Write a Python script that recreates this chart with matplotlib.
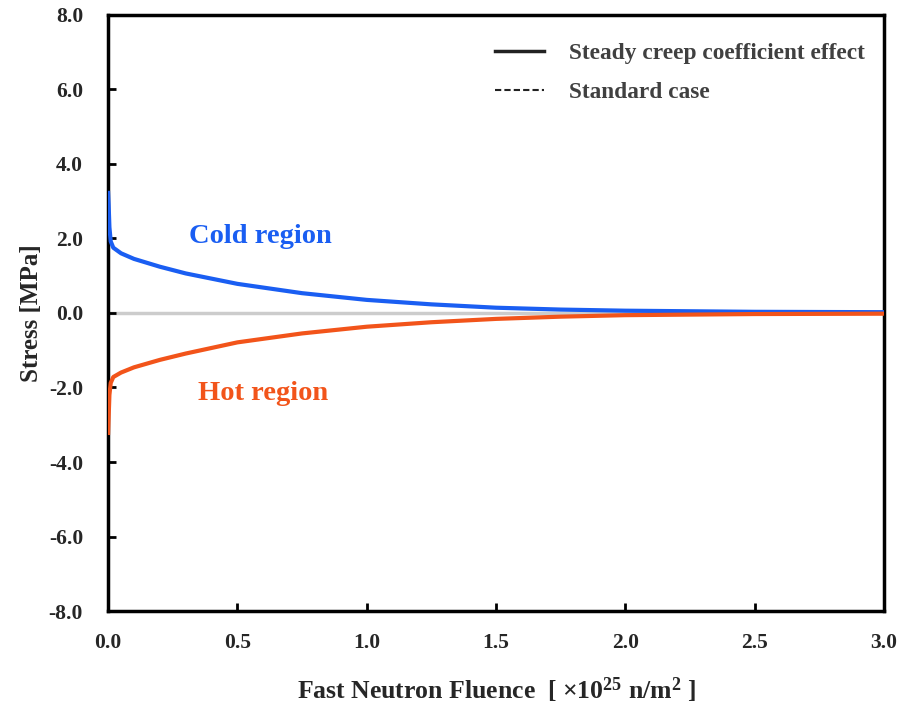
import numpy as np
import matplotlib.pyplot as plt
from matplotlib.lines import Line2D

# fast neutron fluence [x10^25 n/m^2]
fluence = [0.0, 0.002, 0.005, 0.01, 0.02, 0.05, 0.1, 0.2, 0.3, 0.5,
           0.75, 1.0, 1.25, 1.5, 1.75, 2.0, 2.5, 3.0]
# stress [MPa]
cold_stress = [3.22, 2.9, 2.3, 1.92, 1.75, 1.6, 1.45, 1.24, 1.06, 0.78,
               0.53, 0.35, 0.23, 0.14, 0.09, 0.06, 0.03, 0.02]
hot_stress = [-3.22, -2.8, -2.2, -1.88, -1.72, -1.6, -1.46, -1.26, -1.09, -0.79,
              -0.55, -0.37, -0.25, -0.16, -0.1, -0.06, -0.03, -0.02]

COLD = "#1a5ef2"
HOT = "#f2541a"
TEXT = "#262626"

plt.rcParams.update({
    "font.family": "Liberation Serif",
    "font.weight": "bold",
    "mathtext.default": "regular",
})

fig = plt.figure(figsize=(9.01, 7.04), dpi=100)
ax = fig.add_axes([0.12, 0.132, 0.861, 0.847])

ax.axhline(0.0, color="#cccccc", lw=2.5, zorder=1)
ax.plot(fluence, cold_stress, color=COLD, lw=3, zorder=3)
ax.plot(fluence, hot_stress, color=HOT, lw=3, zorder=3)

ax.set_xlim(0, 3.0)
ax.set_ylim(-8, 8)
ax.set_xticks(np.arange(0, 3.01, 0.5))
ax.set_yticks(np.arange(-8, 8.01, 2))
ax.xaxis.set_major_formatter(lambda v, p: f"{v:.1f}")
ax.yaxis.set_major_formatter(lambda v, p: f"{v:.1f}")
ax.tick_params(direction="in", length=6, width=2, labelsize=15.5,
               labelcolor=TEXT, top=False, right=False)
ax.tick_params(axis="x", pad=16)
ax.tick_params(axis="y", pad=18)
for s in ax.spines.values():
    s.set_linewidth(2.5)

ax.set_ylabel("Stress [MPa]", fontsize=18, fontweight="bold", color=TEXT, labelpad=4)
ax.set_xlabel(r"Fast Neutron Fluence  [ $\times$10$^{25}$ n/m$^{2}$ ]",
              fontsize=18.5, fontweight="bold", color=TEXT, labelpad=16)

ax.text(0.59, 2.05, "Cold region", color=COLD, fontsize=20.5, fontweight="bold",
        ha="center", va="center")
ax.text(0.60, -2.15, "Hot region", color=HOT, fontsize=20.5, fontweight="bold",
        ha="center", va="center")

handles = [Line2D([], [], color="#222222", lw=2.5),
           Line2D([], [], color="#222222", lw=1.5, ls=(0, (3, 1.5)))]
leg = ax.legend(handles, ["Steady creep coefficient effect", "Standard case"],
                loc="upper right", bbox_to_anchor=(1.003, 0.988), frameon=False,
                fontsize=16.8, handlelength=2.1, handletextpad=1.1,
                labelspacing=0.75)
for t in leg.get_texts():
    t.set_color("#404040")

fig.savefig("out.png", dpi=100, facecolor="white")
